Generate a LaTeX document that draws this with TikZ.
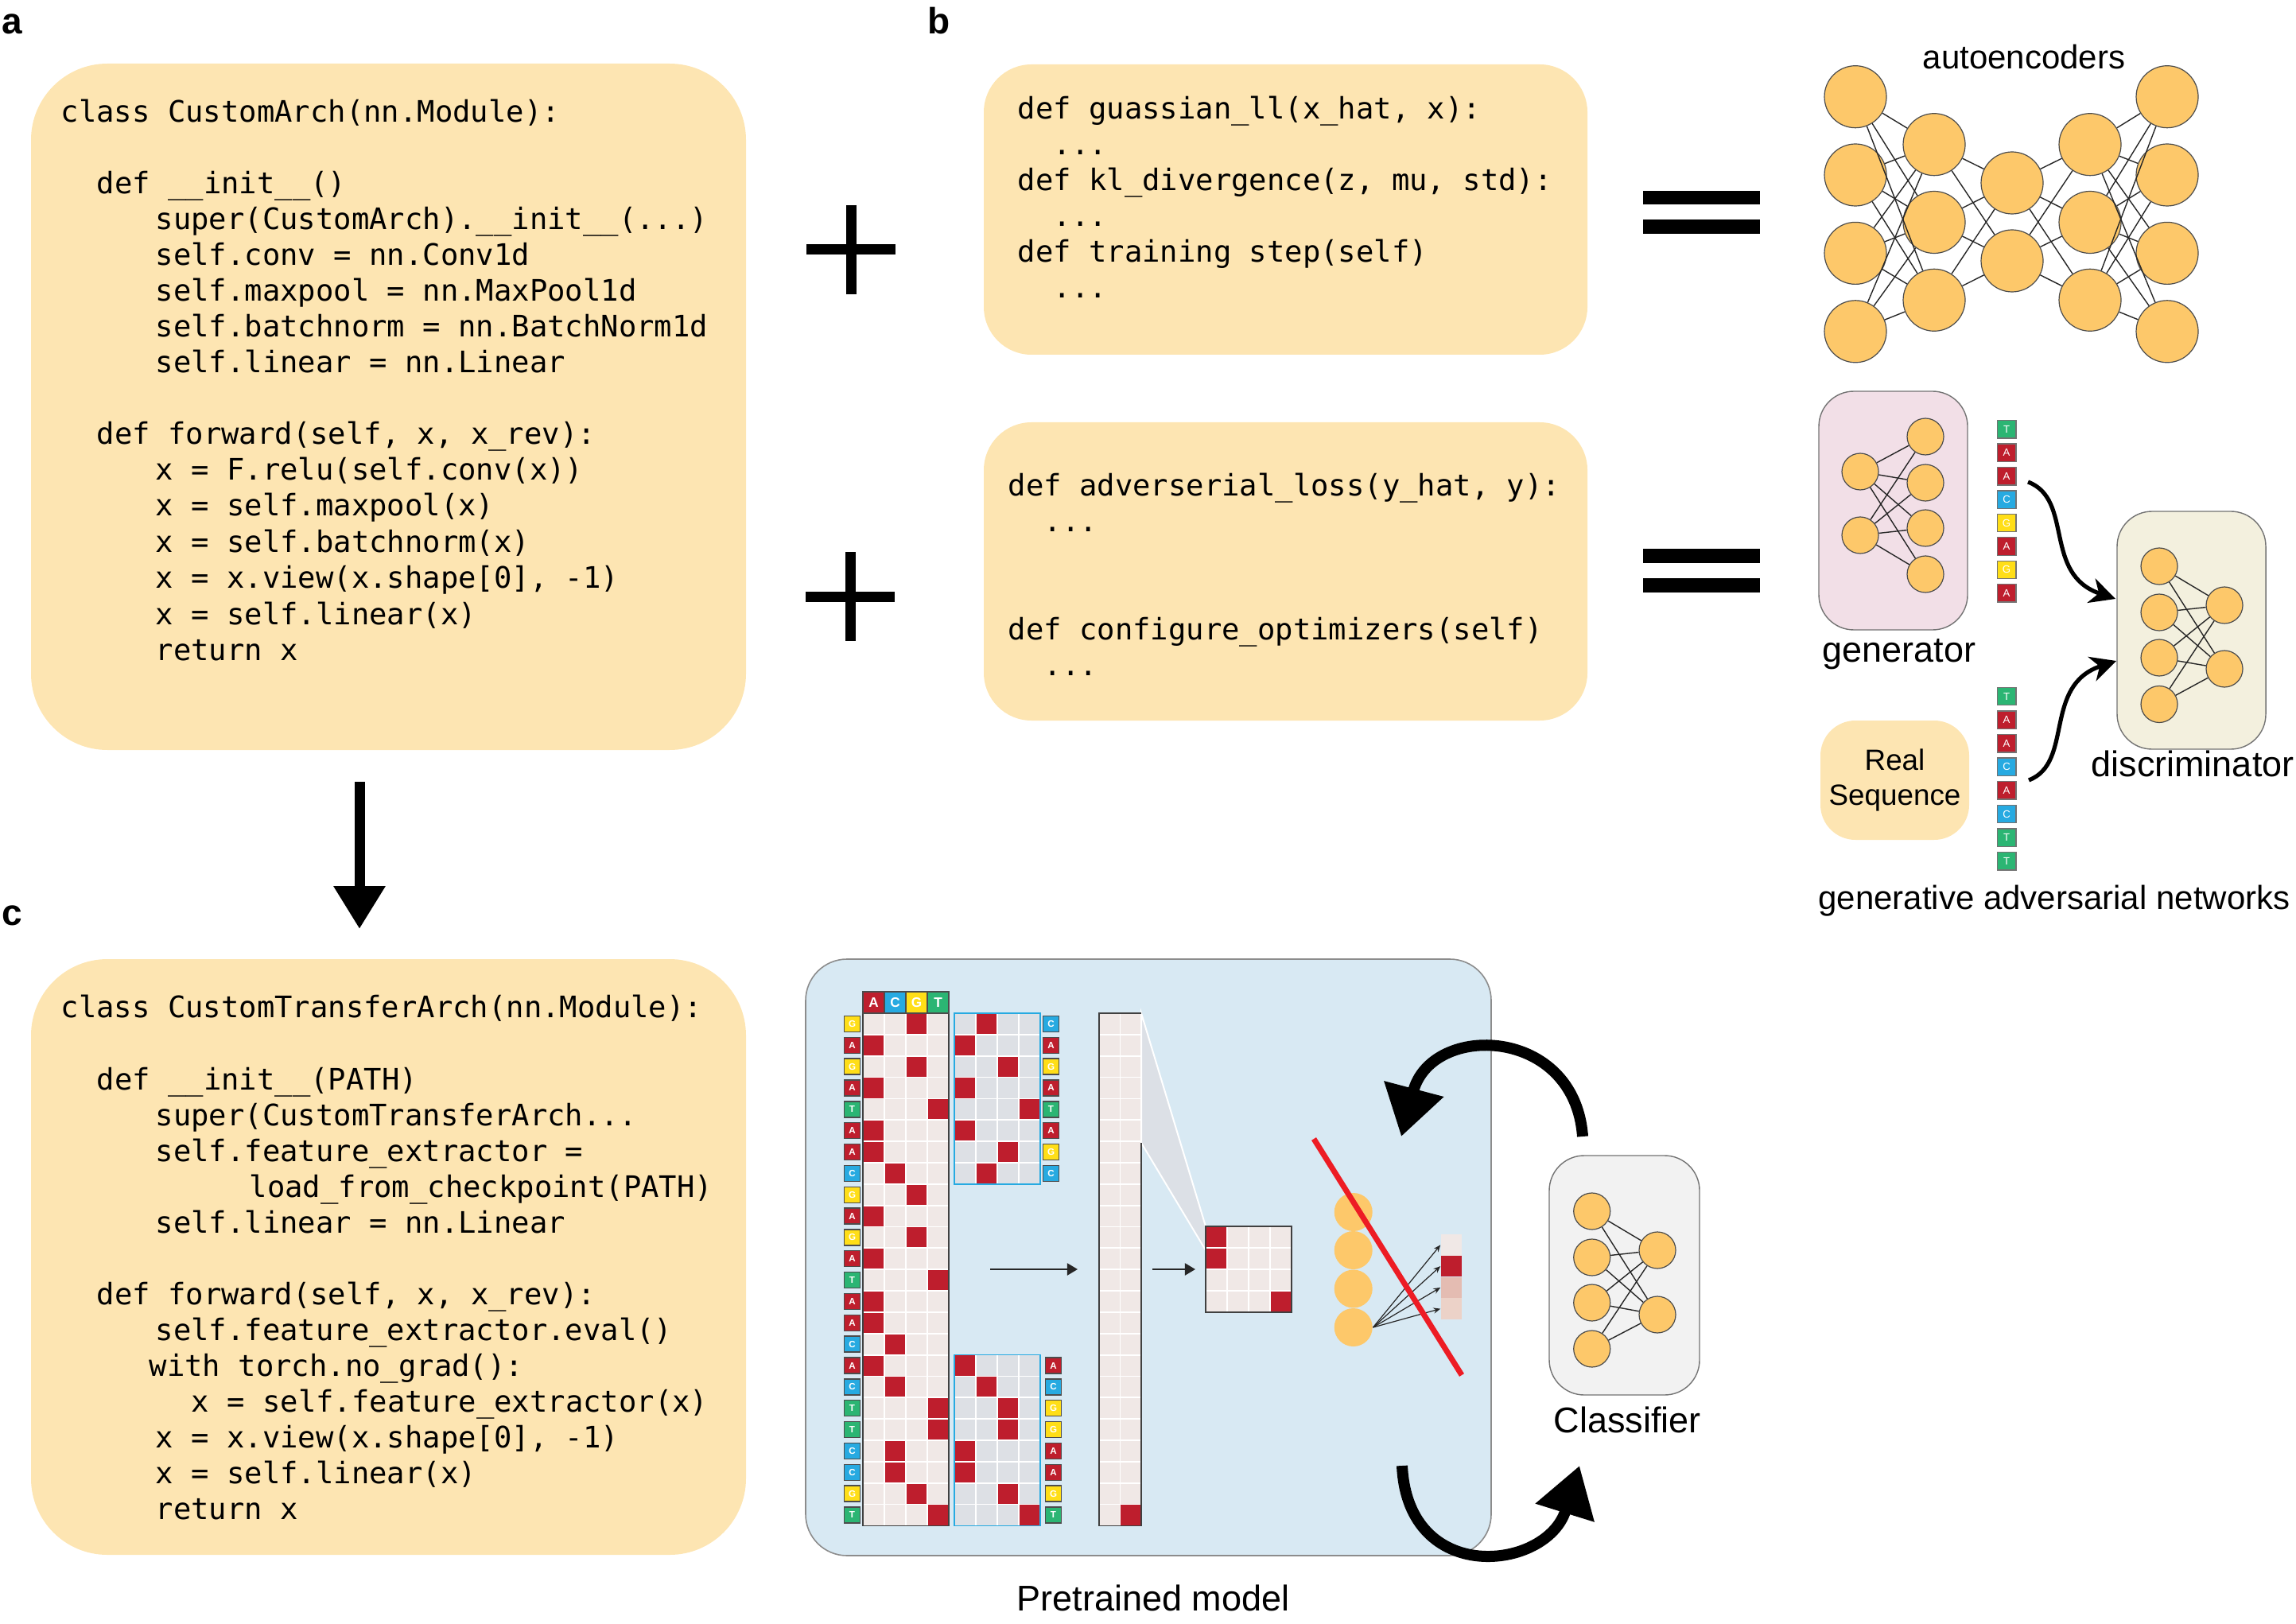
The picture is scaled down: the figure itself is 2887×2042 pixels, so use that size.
\documentclass[tikz,border=0pt]{standalone}
\usepackage{fontspec}
\setmainfont{Liberation Sans}
\setmonofont{DejaVu Sans Mono}
\usetikzlibrary{arrows.meta,fit}
\definecolor{codefill}{RGB}{253,229,178}
\definecolor{genfill}{RGB}{242,223,231}
\definecolor{discfill}{RGB}{243,240,222}
\definecolor{classfill}{RGB}{242,242,242}
\definecolor{nodeor}{RGB}{253,200,106}
\definecolor{bluebg}{RGB}{216,233,243}
\definecolor{cellpink}{RGB}{240,232,230}
\definecolor{cellgray}{RGB}{221,224,229}
\definecolor{funnelgray}{RGB}{220,224,230}
\definecolor{cellred}{RGB}{190,30,45}
\definecolor{cA}{RGB}{190,30,45}
\definecolor{cC}{RGB}{39,170,225}
\definecolor{cG}{RGB}{255,222,23}
\definecolor{cT}{RGB}{43,181,115}
\definecolor{out3}{RGB}{228,188,178}
\definecolor{out4}{RGB}{236,210,200}
\definecolor{redline}{RGB}{237,28,36}
\def\seqmain{G/2/cG,A/0/cA,G/2/cG,A/0/cA,T/3/cT,A/0/cA,A/0/cA,C/1/cC,G/2/cG,A/0/cA,G/2/cG,A/0/cA,T/3/cT,A/0/cA,A/0/cA,C/1/cC,A/0/cA,C/1/cC,T/3/cT,T/3/cT,C/1/cC,C/1/cC,G/2/cG,T/3/cT}
\def\seqtop{C/1/cC,A/0/cA,G/2/cG,A/0/cA,T/3/cT,A/0/cA,G/2/cG,C/1/cC}
\def\seqbot{A/0/cA,C/1/cC,G/2/cG,G/2/cG,A/0/cA,A/0/cA,G/2/cG,T/3/cT}
\def\seqgen{T/cT,A/cA,A/cA,C/cC,G/cG,A/cA,G/cG,A/cA}
\def\seqreal{T/cT,A/cA,A/cA,C/cC,A/cA,C/cC,T/cT,T/cT}
\begin{document}
\begin{tikzpicture}[x=0.25pt,y=-0.25pt,
  code/.style={font=\fontsize{9.3}{11}\selectfont\ttfamily, anchor=base west, inner sep=0pt},
  codebox/.style={inner sep=0pt, fill=codefill, draw=none},
  panel/.style={font=\fontsize{11.5}{13}\selectfont\bfseries, anchor=base west, inner sep=0pt},
  lbl/.style={font=\fontsize{11.25}{13}\selectfont, anchor=base, inner sep=0pt},
  nnbig/.style={circle, draw=black!70, fill=nodeor, line width=0.3pt, inner sep=0pt, minimum size=19.5pt},
  nn/.style={circle, draw=black!70, fill=nodeor, line width=0.3pt, inner sep=0pt, minimum size=11.5pt},
  orb/.style={circle, fill=nodeor, inner sep=0pt, minimum size=12pt},
  edge/.style={line width=0.35pt, black!85},
  nuc/.style={draw=black!70, line width=0.35pt, minimum size=5pt, inner sep=0pt, text=white, font=\fontsize{2.9}{3}\selectfont\bfseries},
  hdr/.style={draw=black!70, line width=0.35pt, minimum size=6.7pt, inner sep=0pt, text=white, font=\fontsize{4.3}{5}\selectfont\bfseries},
  seqb/.style={draw=black!55, line width=0.35pt, minimum width=5.9pt, minimum height=5.6pt, inner sep=0pt, text=white, font=\fontsize{3.3}{4}\selectfont},
  gridw/.style={white, line width=0.45pt},
  mborder/.style={draw=black!75, line width=0.4pt},
  fborder/.style={draw=cC, line width=0.35pt},
  plusline/.style={line width=3.25pt},
  downarrow/.style={line width=3.25pt, -{Triangle[length=13.5pt,width=15.5pt]}},
  ganarrow/.style={line width=1.3pt, -{Stealth[length=8pt,width=8pt,inset=2.5pt]}},
  bigcurve/.style={line width=3.5pt, -{Triangle[length=15.5pt,width=18.5pt]}},
  smallarrow/.style={line width=0.5pt, black!85, -{Triangle[length=3.3pt,width=3.8pt]}},
  thinarrow/.style={line width=0.3pt, black!85, -{Stealth[length=2.2pt,width=1.8pt]}},
  softbox/.style={inner sep=0pt, draw=black!55, line width=0.35pt, rounded corners=11pt}
]
\useasboundingbox (0,0) rectangle (2887,2042);

% ---------- panel labels
\node[panel] (lblA) at (2,43) {a};
\node[panel] (lblB) at (1166,43) {b};
\node[panel] (lblC) at (2,1163) {c};

% ---------- panel a code box
\node[codebox, rounded corners=24pt, fit={(39,80) (938,943)}] (boxa) {};
\node[code] (a01) at (76,154) {class CustomArch(nn.Module):};
\node[code] (a02) at (121,244) {def \_\_init\_\_()};
\node[code] (a03) at (195,289) {super(CustomArch).\_\_init\_\_(...)};
\node[code] (a04) at (195,334) {self.conv = nn.Conv1d};
\node[code] (a05) at (195,379) {self.maxpool = nn.MaxPool1d};
\node[code] (a06) at (195,424) {self.batchnorm = nn.BatchNorm1d};
\node[code] (a07) at (195,469) {self.linear = nn.Linear};
\node[code] (a08) at (121,559) {def forward(self, x, x\_rev):};
\node[code] (a09) at (195,604) {x = F.relu(self.conv(x))};
\node[code] (a10) at (195,649) {x = self.maxpool(x)};
\node[code] (a11) at (195,694) {x = self.batchnorm(x)};
\node[code] (a12) at (195,739) {x = x.view(x.shape[0], -1)};
\node[code] (a13) at (195,785) {x = self.linear(x)};
\node[code] (a14) at (195,830) {return x};

% ---------- panel c code box
\node[codebox, rounded corners=24pt, fit={(39,1206) (938,1955)}] (boxc) {};
\node[code] (c01) at (76,1279) {class CustomTransferArch(nn.Module):};
\node[code] (c02) at (121,1370) {def \_\_init\_\_(PATH)};
\node[code] (c03) at (195,1415) {super(CustomTransferArch...};
\node[code] (c04) at (195,1460) {self.feature\_extractor =};
\node[code] (c05) at (313,1505) {load\_from\_checkpoint(PATH)};
\node[code] (c06) at (195,1550) {self.linear = nn.Linear};
\node[code] (c07) at (121,1640) {def forward(self, x, x\_rev):};
\node[code] (c08) at (195,1685) {self.feature\_extractor.eval()};
\node[code] (c09) at (187,1730) {with torch.no\_grad():};
\node[code] (c10) at (240,1775) {x = self.feature\_extractor(x)};
\node[code] (c11) at (195,1820) {x = x.view(x.shape[0], -1)};
\node[code] (c12) at (195,1865) {x = self.linear(x)};
\node[code] (c13) at (195,1910) {return x};

% arrow a -> c
\coordinate (acS) at (452,983);
\coordinate (acE) at (452,1168);
\draw[downarrow] (acS) -- (acE);

% ---------- panel b code boxes
\node[codebox, rounded corners=15pt, fit={(1237,81) (1996,446)}] (boxb1) {};
\node[code] (b01) at (1279,150) {def guassian\_ll(x\_hat, x):};
\node[code] (b02) at (1324,195) {...};
\node[code] (b03) at (1279,240) {def kl\_divergence(z, mu, std):};
\node[code] (b04) at (1324,285) {...};
\node[code] (b05) at (1279,330) {def training step(self)};
\node[code] (b06) at (1324,375) {...};

\node[codebox, rounded corners=15pt, fit={(1237,531) (1996,906)}] (boxb2) {};
\node[code] (b07) at (1267,624) {def adverserial\_loss(y\_hat, y):};
\node[code] (b08) at (1312,669) {...};
\node[code] (b09) at (1267,804) {def configure\_optimizers(self)};
\node[code] (b10) at (1312,849) {...};

% plus signs
\draw[plusline] (1014,314) -- (1126,314) (1070,258) -- (1070,370);
\draw[plusline] (1013,750) -- (1125,750) (1069,694) -- (1069,806);
% equals signs
\fill (2066,240) rectangle (2213,257);
\fill (2066,276) rectangle (2213,294);
\fill (2066,690) rectangle (2213,708);
\fill (2066,727) rectangle (2213,745);

% ---------- autoencoders
\node[lbl, font=\fontsize{10.5}{12}\selectfont] (aeT) at (2545,87) {autoencoders};
\foreach \i/\yy in {1/121.7,2/220,3/318.4,4/416.8} {
  \node[nnbig] (ae1-\i) at (2333,\yy) {};
  \node[nnbig] (ae5-\i) at (2725,\yy) {};
}
\foreach \i/\yy in {1/181.7,2/279.5,3/377.3} {
  \node[nnbig] (ae2-\i) at (2432,\yy) {};
  \node[nnbig] (ae4-\i) at (2628,\yy) {};
}
\node[nnbig] (ae3-1) at (2530,230) {};
\node[nnbig] (ae3-2) at (2530,328) {};
\foreach \i in {1,...,4} \foreach \j in {1,2,3} {
  \draw[edge] (ae1-\i) -- (ae2-\j);
  \draw[edge] (ae5-\i) -- (ae4-\j);
}
\foreach \i in {1,2,3} \foreach \j in {1,2} {
  \draw[edge] (ae2-\i) -- (ae3-\j);
  \draw[edge] (ae4-\i) -- (ae3-\j);
}

% ---------- GAN
\node[softbox, fill=genfill, fit={(2287,492) (2474,792)}] (genbox) {};
\node[softbox, fill=discfill, fit={(2662,643) (2849,942)}] (discbox) {};
\node[softbox, draw=none, fill=codefill, minimum width=46.75pt, minimum height=37.5pt, align=center,
  font=\fontsize{9.2}{11}\selectfont] (realbox) at (2382.5,981) {Real\\Sequence};
\node[nn] (g1-1) at (2339,593) {};
\node[nn] (g1-2) at (2339,673) {};
\foreach \j/\yy in {1/549,2/607,3/664,4/722} \node[nn] (g2-\j) at (2421,\yy) {};
\foreach \i in {1,2} \foreach \j in {1,...,4} \draw[edge] (g1-\i) -- (g2-\j);
\foreach \j/\yy in {1/712,2/770,3/827,4/885.5} \node[nn] (d1-\j) at (2715,\yy) {};
\node[nn] (d2-1) at (2797,761) {};
\node[nn] (d2-2) at (2797,841) {};
\foreach \i in {1,...,4} \foreach \j in {1,2} \draw[edge] (d1-\i) -- (d2-\j);
\node[lbl] (genT) at (2388,832) {generator};
\node[lbl] (discT) at (2757,976) {discriminator};
\node[lbl, font=\fontsize{10.5}{12}\selectfont] (ganT) at (2583,1143) {generative adversarial networks};
\foreach \l/\col [count=\i from 0] in \seqgen
  \node[seqb, fill=\col] (sg\i) at (2523,{540+29.4*\i}) {\l};
\foreach \l/\col [count=\i from 0] in \seqreal
  \node[seqb, fill=\col] (sr\i) at (2523,{875.5+29.6*\i}) {\l};
\coordinate (gaS) at (2550,606);
\coordinate (gaE) at (2660,753);
\coordinate (raS) at (2551,981);
\coordinate (raE) at (2661,831);
\draw[ganarrow] (gaS) .. controls (2608,628) and (2568,722) .. (gaE);
\draw[ganarrow] (raS) .. controls (2608,959) and (2568,862) .. (raE);

% ---------- Pretrained model
\node[inner sep=0pt, fill=bluebg, draw=black!45, line width=0.4pt, rounded corners=13pt, fit={(1013,1206) (1875,1956)}] (ptbox) {};
\node[lbl] (ptT) at (1450,2025) {Pretrained model};

% main one-hot matrix
\fill[cellpink] (1085,1274) rectangle (1193,1918.4);
\foreach \l/\c/\col [count=\i from 0] in \seqmain {
  \fill[cellred] ({1085+27*\c},{1274+26.85*\i}) rectangle ++(27,26.85);
  \node[nuc, fill=\col] (mL\i) at (1071.5,{1287.4+26.85*\i}) {\l};
}
\foreach \k in {1,2,3} \draw[gridw] ({1085+27*\k},1274) -- ++(0,644.4);
\foreach \k in {1,...,23} \draw[gridw] (1085,{1274+26.85*\k}) -- ++(108,0);
\draw[mborder] (1085,1274) rectangle (1193,1918.4);
\foreach \l/\col [count=\i from 0] in {A/cA,C/cC,G/cG,T/cT}
  \node[hdr, fill=\col] (hd\i) at ({1098.5+27*\i},1260.5) {\l};

% top filter
\fill[cellgray] (1200,1274) rectangle (1308,1488.8);
\foreach \l/\c/\col [count=\i from 0] in \seqtop {
  \fill[cellred] ({1200+27*\c},{1274+26.85*\i}) rectangle ++(27,26.85);
  \node[nuc, fill=\col] (tL\i) at (1321.5,{1287.4+26.85*\i}) {\l};
}
\foreach \k in {1,2,3} \draw[gridw] ({1200+27*\k},1274) -- ++(0,214.8);
\foreach \k in {1,...,7} \draw[gridw] (1200,{1274+26.85*\k}) -- ++(108,0);
\draw[fborder] (1200,1274) rectangle (1308,1488.8);

% bottom filter
\fill[cellgray] (1200,1703.6) rectangle (1308,1918.4);
\foreach \l/\c/\col [count=\i from 0] in \seqbot {
  \fill[cellred] ({1200+27*\c},{1703.6+26.85*\i}) rectangle ++(27,26.85);
  \node[nuc, fill=\col] (bL\i) at (1324.5,{1717+26.85*\i}) {\l};
}
\foreach \k in {1,2,3} \draw[gridw] ({1200+27*\k},1703.6) -- ++(0,214.8);
\foreach \k in {1,...,7} \draw[gridw] (1200,{1703.6+26.85*\k}) -- ++(108,0);
\draw[fborder] (1200,1703.6) rectangle (1308,1918.4);

% arrow to feature column
\coordinate (p1S) at (1245,1596);
\coordinate (p1E) at (1355,1596);
\draw[smallarrow] (p1S) -- (p1E);

% tall feature column
\fill[cellpink] (1382,1274) rectangle (1435,1918.4);
\fill[cellred] (1408.5,1891.55) rectangle (1435,1918.4);
\draw[gridw] (1408.5,1274) -- (1408.5,1918.4);
\foreach \k in {1,...,23} \draw[gridw] (1382,{1274+26.85*\k}) -- ++(53,0);
\filldraw[fill=funnelgray, draw=white, line width=0.5pt] (1435,1274) -- (1516,1542) -- (1516,1572) -- (1435,1437) -- cycle;
\draw[mborder] (1435,1437) -- (1435,1918.4) -- (1382,1918.4) -- (1382,1274) -- (1435,1274);

% arrow to pooled matrix
\coordinate (p2S) at (1449,1596);
\coordinate (p2E) at (1503,1596);
\draw[smallarrow] (p2S) -- (p2E);

% pooled matrix
\fill[cellpink] (1516,1542) rectangle (1624,1650);
\fill[cellred] (1516,1542) rectangle ++(27,27);
\fill[cellred] (1516,1569) rectangle ++(27,27);
\fill[cellred] (1597,1623) rectangle ++(27,27);
\foreach \k in {1,2,3} {
  \draw[gridw] ({1516+27*\k},1542) -- ++(0,108);
  \draw[gridw] (1516,{1542+27*\k}) -- ++(108,0);
}
\draw[mborder] (1516,1542) rectangle (1624,1650);

% linear layer
\foreach \k/\yy in {1/1524,2/1572,3/1620.5,4/1669} \node[orb] (o\k) at (1701.7,\yy) {};
\foreach \k/\yy/\col in {1/1565.4/cellpink,2/1592.1/cellred,3/1618.9/out3,4/1645.6/out4}
  \node[inner sep=0pt, minimum width=6.5pt, minimum height=6.69pt, fill=\col] (q\k) at (1825,\yy) {};
\foreach \k in {1,...,4} \draw[thinarrow] (o4.east) -- (q\k.west);
\coordinate (rlS) at (1652,1432);
\coordinate (rlE) at (1838,1729);
\draw[redline, line width=1.75pt] (rlS) -- (rlE);

% ---------- Classifier
\node[softbox, fill=classfill, fit={(1948,1453) (2137,1754)}] (clbox) {};
\foreach \j/\yy in {1/1523,2/1581,3/1638,4/1696} \node[nn] (k1-\j) at (2001.7,\yy) {};
\node[nn] (k2-1) at (2084,1572) {};
\node[nn] (k2-2) at (2084,1653) {};
\foreach \i in {1,...,4} \foreach \j in {1,2} \draw[edge] (k1-\i) -- (k2-\j);
\node[lbl] (clT) at (2046,1801) {Classifier};

% big curved arrows
\coordinate (bcS) at (1990,1429);
\coordinate (bcE) at (1762,1429);
\coordinate (bdS) at (1763,1843);
\coordinate (bdE) at (1986,1843);
\draw[bigcurve] (bcS) .. controls (1980,1290) and (1800,1285) .. (bcE);
\draw[bigcurve] (bdS) .. controls (1770,1995) and (1945,1975) .. (bdE);
\end{tikzpicture}
\end{document}
